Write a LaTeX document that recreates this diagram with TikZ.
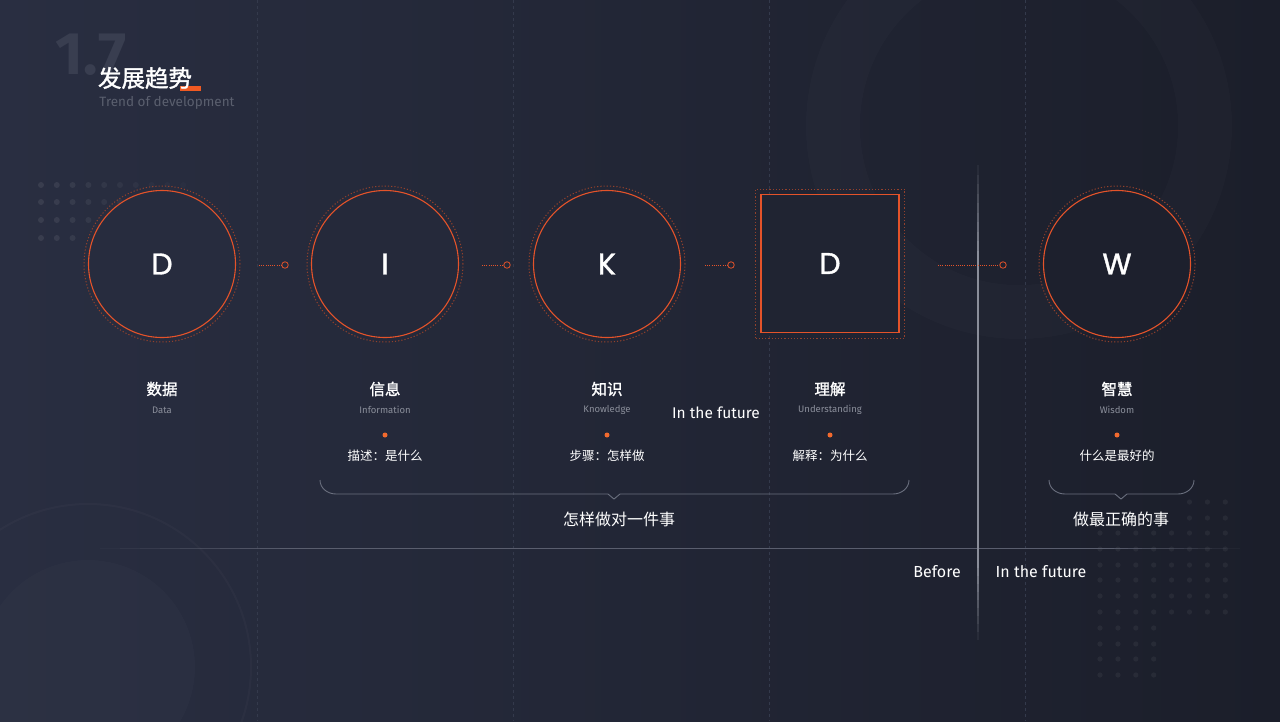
\documentclass[tikz,border=0pt]{standalone}
\usepackage{fontspec}
\setmainfont{Fira Sans}
\newfontfamily\cjk{Noto Sans CJK SC}
\newfontfamily\cjkbold[FakeBold=1.5]{Noto Sans CJK SC}
\newfontfamily\letterfont[FakeBold=1.2]{Poppins}
\definecolor{bgleft}{HTML}{292E41}
\definecolor{bgright}{HTML}{1B1E2A}
\definecolor{accent}{HTML}{E4532A}
\definecolor{haloc}{HTML}{93412C}
\definecolor{dotc}{HTML}{F26A2E}
\definecolor{barc}{HTML}{F05A22}
\definecolor{subgray}{HTML}{8B8F9B}
\definecolor{titlegray}{HTML}{5A5F6E}
\definecolor{numc}{HTML}{393E50}
\definecolor{gridc}{HTML}{343A4C}
\definecolor{bracec}{HTML}{6A6F7E}
\definecolor{splitc}{HTML}{5A5E6E}
\definecolor{dividec}{HTML}{8A8E9A}
\newcommand{\fs}[1]{\fontsize{#1}{#1}\selectfont}
\tikzset{
  stage/.style={circle, draw=accent, line width=1.1pt, minimum size=147pt,
                inner sep=0pt, text=white, font=\letterfont\fs{30}},
  stagebox/.style={stage, rectangle, minimum size=138pt},
  halo/.style={circle, draw=haloc, line width=1pt, dash pattern=on 1.2pt off 2pt,
               minimum size=156pt, inner sep=0pt},
  halobox/.style={halo, rectangle, minimum size=149pt},
  cnlabel/.style={text=white, font=\cjkbold\fs{15.5}},
  enlabel/.style={text=subgray, font=\fs{9.5}},
  desc/.style={text=white, font=\cjk\fs{12.5}},
  bullet/.style={circle, fill=dotc, minimum size=5pt, inner sep=0pt},
  joint/.style={circle, draw=accent, line width=0.8pt, minimum size=6.5pt, inner sep=0pt},
  link/.style={draw=accent, line width=0.7pt, dash pattern=on 1pt off 1.2pt},
  brace/.style={draw=bracec, line width=0.9pt},
  note/.style={text=white, font=\fs{16}},
  summary/.style={text=white, font=\cjk\fs{16}},
  speck/.style={fill=white, opacity=0.05}
}

\begin{document}
\begin{tikzpicture}[x=1pt, y=-1pt]
\useasboundingbox (0,0) rectangle (1280,721);
% background
\shade[left color=bgleft, right color=bgright] (0,0) rectangle (1280,721);
\fill[white, opacity=0.014, even odd rule] (1019,126) circle[radius=213pt] (1019,126) circle[radius=159pt];
\fill[white, opacity=0.016] (88,667) circle[radius=107pt];
\draw[white, opacity=0.025, line width=2pt] (88,667) circle[radius=163pt];

% column guides
\foreach \x in {257,513,769,1025}
  \draw[gridc, line width=0.7pt, dash pattern=on 3pt off 3pt] (\x,0) -- (\x,721);

% dot grids
\foreach \y/\m in {185/9, 202/5, 220/3, 238/2}
  \foreach \i in {0,...,\m} {
    \pgfmathsetmacro\op{0.08*(1-\i/11)}
    \fill[white, opacity=\op] (41+15.8*\i,\y) circle[radius=3pt];
  }
\foreach \y in {533,549,565,580,596,612}
  \foreach \i in {0,...,7}
    \fill[speck] (1100+17.9*\i,\y) circle[radius=2.6pt];
\foreach \y in {628,644,659,675}
  \foreach \i in {0,...,3}
    \fill[speck] (1100+17.9*\i,\y) circle[radius=2.6pt];
\foreach \y in {502,518}
  \foreach \i in {5,6,7}
    \fill[speck] (1100+17.9*\i,\y) circle[radius=2.6pt];

% before / future split
\foreach \i in {0,...,9} {
  \pgfmathsetmacro\op{(\i+1)/10}
  \draw[splitc, opacity=\op, line width=1pt] (100+20*\i,548) -- (120+20*\i,548);
  \draw[splitc, opacity=\op, line width=1pt] (1240-14*\i,548) -- (1226-14*\i,548);
  \draw[dividec, opacity=\op, line width=1.5pt] (978,165+9.5*\i) -- (978,174.5+9.5*\i);
  \draw[dividec, opacity=\op, line width=1.5pt] (978,640-8*\i) -- (978,632-8*\i);
}
\draw[splitc, line width=1pt] (300,548) -- (1100,548);
\draw[dividec, line width=1.5pt] (978,260) -- (978,560);

% title
\node[font=\bfseries\fs{60}, text=numc] (num) at (91,55) {1.7};
\fill[barc] (180,86) rectangle (201,91);
\node[font=\cjkbold\fs{23.5}, text=white] (title) at (145,78) {发展趋势};
\node[font=\fs{13.5}, text=titlegray] (subtitle) at (167,103) {Trend of development};

% stages
\foreach \n/\x/\t in {d/162/D, i/385/I, k/607/K, w/1117/W} {
  \pgfmathtruncatemacro\mix{100-\x/12.8}
  \node[halo] (\n-halo) at (\x,264) {};
  \node[stage, fill=bgleft!\mix!bgright] (\n) at (\x,264) {\t};
}
\node[halobox] (u-halo) at (830,263.5) {};
\node[stagebox, fill=bgleft!35!bgright] (u) at (830,263.5) {D};

% connectors
\foreach \a/\b/\n in {259/285/1, 482/507/2, 705/731/3, 938/1003/4} {
  \coordinate (lead\n) at (\a,265);
  \node[joint] (joint\n) at (\b,265) {};
  \draw[link] (lead\n) -- (joint\n);
}

% labels
\foreach \n/\x/\cn/\en in {d/162/数据/Data, i/385/信息/Information, k/607/知识/Knowledge,
                           u/830/理解/Understanding, w/1117/智慧/Wisdom} {
  \node[cnlabel] (\n-cn) at (\x,389) {\cn};
  \node[enlabel] (\n-en) at (\x,410) {\en};
}
\foreach \n/\x/\d in {i/385/描述：是什么, k/607/步骤：怎样做, u/830/解释：为什么, w/1117/什么是最好的} {
  \node[bullet] (\n-dot) at (\x,435) {};
  \node[desc] (\n-desc) at (\x,456) {\d};
}
\node[note, font=\fs{15.5}] (future-mid) at (716,413) {In the future};

% braces
\draw[brace] (320,480) to[out=-90, in=180] (336,494) -- (608,494) -- (614,499)
  -- (620,494) -- (893,494) to[out=0, in=-90] (909,480);
\draw[brace] (1049,480) to[out=-90, in=180] (1065,494) -- (1115,494) -- (1121,499)
  -- (1127,494) -- (1178,494) to[out=0, in=-90] (1194,480);
\node[summary] (sum1) at (619,519) {怎样做对一件事};
\node[summary] (sum2) at (1121,519) {做最正确的事};

\node[note] (before) at (937,572) {Before};
\node[note] (future) at (1041,572) {In the future};
\end{tikzpicture}
\end{document}
